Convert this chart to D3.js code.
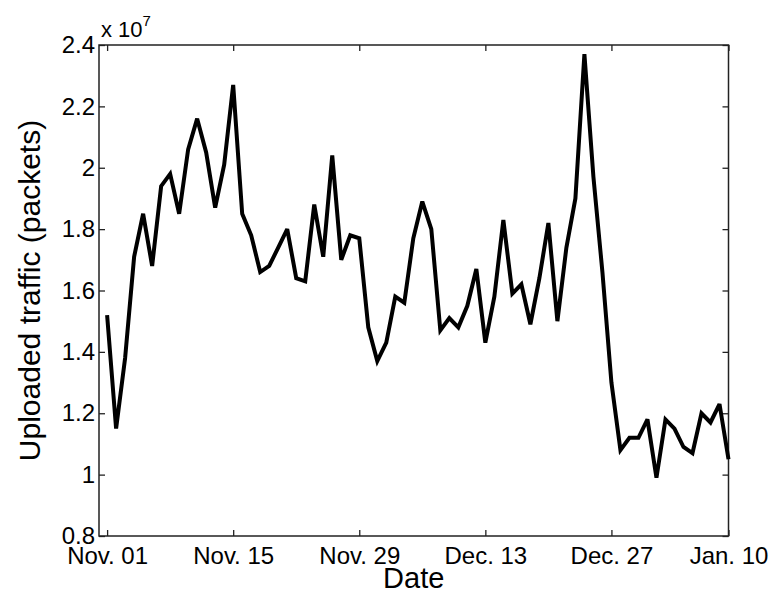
<!DOCTYPE html>
<html>
<head>
<meta charset="utf-8">
<script src="https://cdn.jsdelivr.net/npm/d3@7"></script>
<style>
  html, body { margin: 0; padding: 0; background: #fff; }
  svg { display: block; }
  text { font-family: "Liberation Sans", Arial, Helvetica, sans-serif; fill: #000; }
</style>
</head>
<body>
<svg id="chart" width="772" height="594"></svg>
<script>
// Daily uploaded traffic, in units of 1e7 packets, starting Nov. 01
const dayIndex = d3.range(70);
const uploaded = [
  1.52, 1.15, 1.38, 1.71, 1.85, 1.68, 1.94, 1.98, 1.85, 2.06,
  2.16, 2.05, 1.87, 2.01, 2.27, 1.85, 1.78, 1.66, 1.68, 1.74,
  1.80, 1.64, 1.63, 1.88, 1.71, 2.04, 1.70, 1.78, 1.77, 1.48,
  1.37, 1.43, 1.58, 1.56, 1.77, 1.89, 1.80, 1.47, 1.51, 1.48,
  1.55, 1.67, 1.43, 1.58, 1.83, 1.59, 1.62, 1.49, 1.64, 1.82,
  1.50, 1.74, 1.90, 2.37, 1.97, 1.66, 1.30, 1.08, 1.12, 1.12,
  1.18, 0.99, 1.18, 1.15, 1.09, 1.07, 1.20, 1.17, 1.23, 1.05
];
const xTickIdx = [0, 14, 28, 42, 56, 69];
const xTickLabels = ["Nov. 01", "Nov. 15", "Nov. 29", "Dec. 13", "Dec. 27", "Jan. 10"];
const yTicks = [0.8, 1.0, 1.2, 1.4, 1.6, 1.8, 2.0, 2.2, 2.4];

const svg = d3.select("#chart");
const plotL = 99, plotR = 728.5, plotT = 45, plotB = 536;

const x = d3.scaleLinear().domain([-0.9, 69]).range([plotL, plotR]);
const y = d3.scaleLinear().domain([0.8, 2.4]).range([plotB, plotT]);

const fontSize = 24;
const axisColor = "#222";

// Bottom axis with inward ticks
const gx = svg.append("g").attr("transform", `translate(0,${plotB})`)
  .call(d3.axisBottom(x).tickValues(xTickIdx)
    .tickFormat((d, i) => xTickLabels[i])
    .tickSizeInner(-6).tickSizeOuter(0).tickPadding(11));
// Top axis ticks (no labels)
const gxt = svg.append("g").attr("transform", `translate(0,${plotT})`)
  .call(d3.axisTop(x).tickValues(xTickIdx).tickFormat("")
    .tickSizeInner(-6).tickSizeOuter(0));
// Left axis
const gy = svg.append("g").attr("transform", `translate(${plotL},0)`)
  .call(d3.axisLeft(y).tickValues(yTicks).tickFormat(d3.format("~g"))
    .tickSizeInner(-6).tickSizeOuter(0).tickPadding(4));
// Right axis ticks (no labels)
const gyr = svg.append("g").attr("transform", `translate(${plotR},0)`)
  .call(d3.axisRight(y).tickValues(yTicks).tickFormat("")
    .tickSizeInner(-6).tickSizeOuter(0));

[gx, gxt, gy, gyr].forEach(g => {
  g.select(".domain").remove();
  g.selectAll(".tick line").attr("stroke", axisColor).attr("stroke-width", 1.3);
  g.selectAll(".tick text").style("font-size", fontSize + "px")
    .style("font-family", '"Liberation Sans", Arial, sans-serif').attr("fill", "#000");
});
gx.selectAll(".tick text").attr("dy", "0.71em");

// Plot frame
svg.append("rect")
  .attr("x", plotL).attr("y", plotT)
  .attr("width", plotR - plotL).attr("height", plotB - plotT)
  .attr("fill", "none").attr("stroke", axisColor).attr("stroke-width", 1.5);

// Traffic line
const line = d3.line().x((d, i) => x(dayIndex[i])).y(d => y(d));
svg.append("path")
  .datum(uploaded)
  .attr("d", line)
  .attr("fill", "none")
  .attr("stroke", "#000")
  .attr("stroke-width", 4)
  .attr("stroke-linejoin", "miter")
  .attr("stroke-miterlimit", 3);

// Axis titles
svg.append("text")
  .attr("x", (plotL + plotR) / 2).attr("y", 588)
  .attr("text-anchor", "middle")
  .style("font-size", "29px")
  .text("Date");

svg.append("text")
  .attr("transform", `translate(40,${(plotT + plotB) / 2}) rotate(-90)`)
  .attr("text-anchor", "middle")
  .style("font-size", "30px")
  .text("Uploaded traffic (packets)");

// Exponent multiplier above the y axis
const mult = svg.append("text").attr("x", 101).attr("y", 37).style("font-size", "22px");
mult.append("tspan").text("x 10");
mult.append("tspan").attr("dy", -11).style("font-size", "15px").text("7");
</script>
</body>
</html>
